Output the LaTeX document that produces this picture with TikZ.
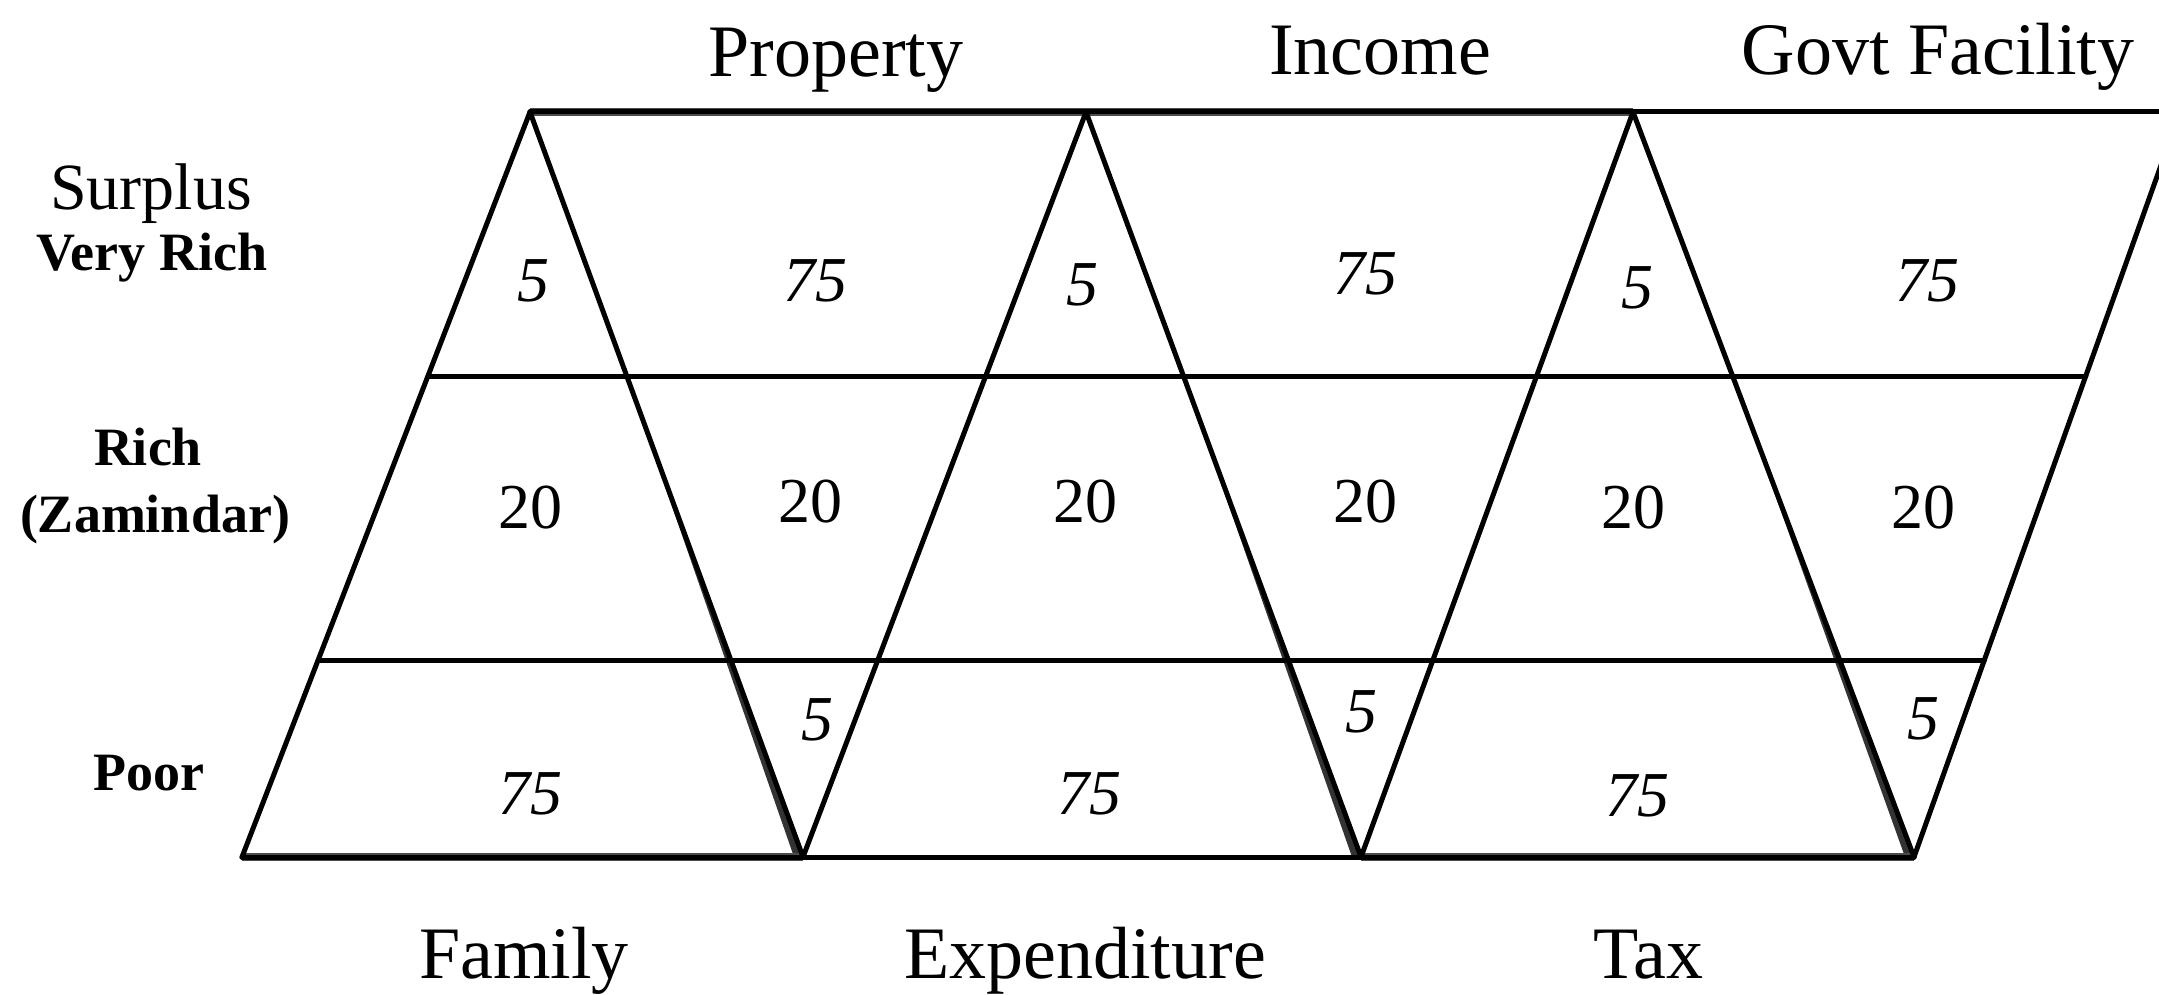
\documentclass[tikz,border=0pt]{standalone}
\usepackage{fontspec}
\setmainfont{Liberation Serif}
\usetikzlibrary{calc}
\begin{document}
\begin{tikzpicture}[x=1pt,y=-1pt,
  ln/.style={line width=5pt,line cap=round,line join=round},
  grayln/.style={line width=8pt,draw=black!70,line cap=butt},
  heavy/.style={fill=black!80},
  toplbl/.style={anchor=base,inner sep=0pt,font=\fontsize{74}{80}\selectfont},
  sidelbl/.style={anchor=base,inner sep=0pt,font=\fontsize{54}{60}\selectfont\bfseries},
  sidereg/.style={anchor=base,inner sep=0pt,font=\fontsize{66}{70}\selectfont},
  numit/.style={inner sep=0pt,font=\fontsize{64}{70}\selectfont\itshape},
  numup/.style={inner sep=0pt,font=\fontsize{64}{70}\selectfont}]
\useasboundingbox (0,0) rectangle (2159,995);
\clip (0,0) rectangle (2159,995);
% vertices
\coordinate (A0) at (530,112);
\coordinate (A1) at (1086,112);
\coordinate (A2) at (1633,112);
\coordinate (TR) at (2180,112);
\coordinate (TE) at (2159,112);
\coordinate (B0) at (242,857);
\coordinate (B1) at (803,857);
\coordinate (B2) at (1361,857);
\coordinate (B3) at (1914,857);
\coordinate (L1) at ($(B0)!0.6456!(A0)$);
\coordinate (R1) at ($(B3)!0.6456!(TR)$);
\coordinate (L2) at ($(B0)!0.2644!(A0)$);
\coordinate (R2) at ($(B3)!0.2644!(TR)$);
% gradually heavier lower parts of the descending strokes
\coordinate (D0) at ($(B1)!0.65!(A0)$);
\coordinate (D1) at ($(B2)!0.65!(A1)$);
\coordinate (D2) at ($(B3)!0.65!(A2)$);
\fill[heavy] (D0) -- ($(B1)+(-9,0)$) -- ($(B1)+(2,0)$) -- cycle;
\fill[heavy] (D1) -- ($(B2)+(-9,0)$) -- ($(B2)+(2,0)$) -- cycle;
\fill[heavy] (D2) -- ($(B3)+(-9,0)$) -- ($(B3)+(2,0)$) -- cycle;
% grey thick segments of top and bottom lines
\draw[grayln] (A0) -- (A1) -- (A2);
\draw[grayln] (B0) -- (B1);
\draw[grayln] (B2) -- (B3);
% frame
\draw[ln] (A0) -- (TE);
\draw[ln] (B0) -- (B3);
\draw[ln] (B0) -- (A0);
\draw[ln] (B3) -- (TR);
% zigzag
\draw[ln] (A0) -- (B1) -- (A1) -- (B2) -- (A2) -- (B3);
% horizontal bands
\draw[ln] (L1) -- (R1);
\draw[ln] (L2) -- (R2);
% column headings
\node[toplbl] (hprop) at (836,77) {Property};
\node[toplbl] (hinc) at (1380,75) {Income};
\node[toplbl] (hgov) at (1938,75) {Govt Facility};
\node[toplbl] (hfam) at (524,978) {Family};
\node[toplbl] (hexp) at (1085,978) {Expenditure};
\node[toplbl] (htax) at (1648,978) {Tax};
% row labels
\node[sidereg] (ssur) at (151,210) {Surplus};
\node[sidelbl] (svr) at (152,270) {Very Rich};
\node[sidelbl] (sr) at (148,465) {Rich};
\node[sidelbl] (sz) at (155,532) {(Zamindar)};
\node[sidelbl] (sp) at (149,790) {Poor};
% row 1
\node[numit] (n11) at (533,281) {5};
\node[numit] (n12) at (815,281) {75};
\node[numit] (n13) at (1082,285) {5};
\node[numit] (n14) at (1365,274) {75};
\node[numit] (n15) at (1637,288) {5};
\node[numit] (n16) at (1927,281) {75};
% row 2
\node[numup] (n21) at (530,508) {20};
\node[numup] (n22) at (810,502) {20};
\node[numup] (n23) at (1085,502) {20};
\node[numup] (n24) at (1365,502) {20};
\node[numup] (n25) at (1633,508) {20};
\node[numup] (n26) at (1923,508) {20};
% row 3
\node[numit] (n31) at (530,794) {75};
\node[numit] (n32) at (817,720) {5};
\node[numit] (n33) at (1089,794) {75};
\node[numit] (n34) at (1361,712) {5};
\node[numit] (n35) at (1637,796) {75};
\node[numit] (n36) at (1923,719) {5};
\end{tikzpicture}
\end{document}
